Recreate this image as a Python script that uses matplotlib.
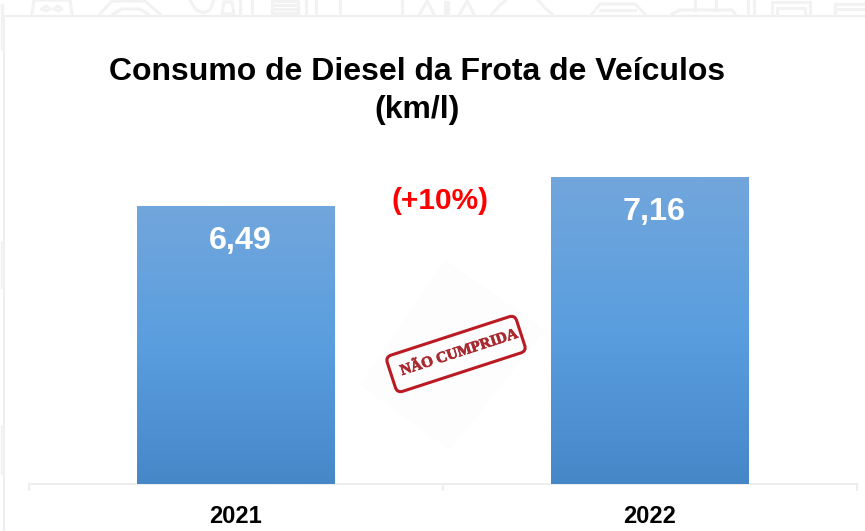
import matplotlib
matplotlib.use('Agg')
import matplotlib.pyplot as plt
import matplotlib.patches as mpatches
import matplotlib.patheffects as pe
import matplotlib.transforms as mtrans
import numpy as np
from matplotlib.colors import LinearSegmentedColormap

# Data
years = ['2021', '2022']
consumo = [6.49, 7.16]
value_labels = ['6,49', '7,16']

W, H = 865, 531
plt.rcParams['font.family'] = ['Liberation Sans', 'DejaVu Sans']

fig = plt.figure(figsize=(W / 100, H / 100), dpi=100)
fig.patch.set_facecolor('white')

# Axes: baseline at y=484 px, spans x 29..857 px
ax_top = 20
ax = fig.add_axes([29 / W, 1 - 484 / H, 828 / W, (484 - ax_top) / H])
ax.patch.set_alpha(0)

# Gradient bars
grad = LinearSegmentedColormap.from_list('bar', ['#4687c8', '#5a9edf', '#72a6dc'])
gradient = np.linspace(0, 1, 256).reshape(-1, 1)
bars = ax.bar(range(len(years)), consumo, width=0.478, color='#5a9edf', zorder=2)
for b in bars:
    x0, w, h = b.get_x(), b.get_width(), b.get_height()
    ax.imshow(gradient, extent=(x0, x0 + w, 0, h), origin='lower', cmap=grad,
              aspect='auto', zorder=3)
ax.set_xlim(-0.5, 1.5)
ax.set_ylim(0, (484 - ax_top) / 42.75)

# Value labels
for i, (v, lab) in enumerate(zip(consumo, value_labels)):
    ax.annotate(lab, (i, v), xytext=(3, -14), textcoords='offset points',
                ha='center', va='top', color='white', fontsize=23.3, fontweight='bold', zorder=4)

# Axis
for s in ['top', 'left', 'right']:
    ax.spines[s].set_visible(False)
ax.spines['bottom'].set_color('#eeeeee')
ax.spines['bottom'].set_linewidth(1.5)
ax.set_yticks([])
ax.set_xticks([-0.5, 0.5, 1.5])
ax.set_xticklabels([])
ax.tick_params(axis='x', length=5, color='#eeeeee', width=1.5)
for i, y in enumerate(years):
    ax.text(i - 0.001, -0.75, y, ha='center', va='center', fontsize=17, fontweight='bold', color='black')

# Title and target
fig.text(417 / W, 1 - 72 / H, 'Consumo de Diesel da Frota de Veículos', ha='center', va='center',
         fontsize=23, fontweight='bold', color='black')
fig.text(417 / W, 1 - 110 / H, '(km/l)', ha='center', va='center',
         fontsize=23, fontweight='bold', color='black')
fig.text(439.5 / W, 1 - 200.5 / H, '(+10%)', ha='center', va='center',
         fontsize=21.5, fontweight='bold', color='#fe0000')

# Overlays in pixel coords
ov = fig.add_axes([0, 0, 1, 1], zorder=-1)
ov.set_xlim(0, W)
ov.set_ylim(H, 0)
ov.axis('off')
ov2 = fig.add_axes([0, 0, 1, 1], zorder=5)
ov2.set_xlim(0, W)
ov2.set_ylim(H, 0)
ov2.axis('off')
ov2.patch.set_alpha(0)

# Panel border
faint = '#f2f2f2'
ov.plot([4, 4, W], [H, 15.5, 15.5], color='#efefef', lw=1.5)
for y0, y1 in [(5, 48), (243, 287), (427, 473)]:
    ov.plot([1.5, 1.5], [y0, y1], color=faint, lw=2.5)

# Faint background icons above the panel
icons = [
    ([32, 34, 70, 72], [14, 0, 0, 14]),
    ([42, 46, 50, 46, 42], [9, 6, 9, 11, 9]),
    ([54, 58, 62, 58, 54], [9, 6, 9, 11, 9]),
    ([100, 112, 145, 160], [14, 1, 1, 14]),
    ([113, 122, 140, 148], [14, 9, 9, 14]),
    ([190, 196, 204, 210, 214], [0, 10, 13, 10, 0]),
    ([222, 224, 232, 234, 232, 224], [14, 2, 2, 14, 14, 14]),
    ([240, 240], [0, 14]), ([252, 252], [0, 14]),
    ([272, 272, 298, 298], [14, 1, 1, 14]),
    ([275, 296], [5, 5]), ([275, 296], [9, 9]), ([275, 296], [13, 13]),
    ([306, 306], [0, 14]), ([316, 316], [0, 14]),
    ([340, 340], [0, 14]), ([402, 402], [0, 14]),
    ([420, 427, 434], [14, 1, 14]), ([445, 445], [2, 14]), ([448, 448], [2, 14]),
    ([460, 467, 474], [14, 1, 14]),
    ([492, 500, 505], [14, 5, 1]), ([538, 545, 552], [0, 8, 14]),
    ([592, 600, 635, 645], [14, 4, 4, 14]), ([600, 635], [10, 10]),
    ([672, 680, 732, 735], [14, 10, 10, 14]), ([695, 695], [0, 10]), ([716, 716], [0, 10]),
    ([748, 748], [0, 14]), ([754, 754], [0, 14]),
    ([772, 772, 810, 810], [14, 2, 2, 14]), ([777, 777, 805, 805], [14, 8, 8, 14]),
    ([835, 835, W], [14, 4, 4]), ([835, W], [9, 9]),
]
for xs, ys in icons:
    ov.plot(xs, ys, color=faint, lw=2.2)

# Stamp: faint paper behind, then rounded red box and text
ov.add_patch(mpatches.Polygon([(360, 385), (445, 260), (545, 330), (450, 450)], closed=True,
                              facecolor='#fdfdfd', edgecolor='none'))
cx, cy = 456, 354
angle = -18
rot = mtrans.Affine2D().rotate_deg_around(cx, cy, angle) + ov2.transData
box = mpatches.FancyBboxPatch((cx - 68, cy - 19), 136, 38, boxstyle='round,pad=0,rounding_size=6',
                              facecolor='none', edgecolor='#bb1a22', lw=2.2, transform=rot)
ov2.add_patch(box)
ov2.text(459, 353, 'NÃO CUMPRIDA', rotation=18, rotation_mode='anchor', ha='center', va='center',
         family=['Liberation Serif', 'DejaVu Serif'], fontweight='bold', fontsize=11, color='#a92a30',
         path_effects=[pe.withStroke(linewidth=0.5, foreground='#a92a30')])

fig.savefig('out.png', dpi=100)
